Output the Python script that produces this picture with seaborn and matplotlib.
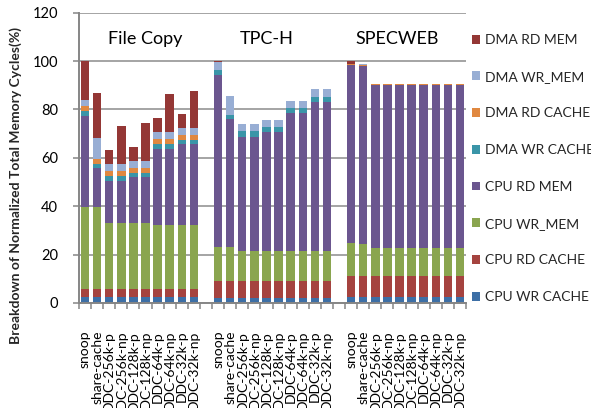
import matplotlib
matplotlib.use("Agg")
import matplotlib.pyplot as plt
from matplotlib.patches import Patch
import numpy as np
import pandas as pd
import seaborn as sns

# Benchmarks and the configurations evaluated for each of them
workloads = ["File Copy", "TPC-H", "SPECWEB"]
configs = ["snoop", "share-cache", "DDC-256k-p", "DDC-256k-np", "DDC-128k-p",
           "DDC-128k-np", "DDC-64k-p", "DDC-64k-np", "DDC-32k-p", "DDC-32k-np"]

# Stack components, bottom to top
components = ["CPU WR CACHE", "CPU RD CACHE", "CPU WR_MEM", "CPU RD MEM",
              "DMA WR CACHE", "DMA RD CACHE", "DMA WR_MEM", "DMA RD MEM"]
colors = ["#3D6FA6", "#A5433F", "#8AA54F", "#6B568F",
          "#3A95A8", "#E08840", "#98AED4", "#943735"]

# Normalized memory cycles (%) per component, one list per workload
file_copy = {
    "CPU WR CACHE": [2.6, 2.6, 2.6, 2.6, 2.6, 2.6, 2.6, 2.6, 2.6, 2.6],
    "CPU RD CACHE": [3.3, 3.3, 3.3, 3.3, 3.3, 3.3, 3.3, 3.3, 3.3, 3.3],
    "CPU WR_MEM":   [33.7, 33.7, 27.1, 27.1, 27.1, 27.1, 26.3, 26.3, 26.3, 26.3],
    "CPU RD MEM":   [37.9, 16.2, 17.6, 17.6, 19.0, 19.0, 31.6, 31.6, 33.5, 33.5],
    "DMA WR CACHE": [2.0, 1.8, 1.9, 1.9, 1.9, 1.9, 2.1, 2.1, 1.8, 1.8],
    "DMA RD CACHE": [1.9, 1.9, 1.9, 1.9, 2.1, 2.1, 1.9, 1.9, 1.9, 1.9],
    "DMA WR_MEM":   [2.7, 8.7, 3.0, 3.0, 2.8, 2.8, 2.8, 2.8, 2.9, 2.9],
    "DMA RD MEM":   [15.9, 18.5, 5.8, 15.6, 5.8, 15.7, 5.7, 15.6, 5.8, 15.5],
}
tpch = {
    "CPU WR CACHE": [2.2, 2.2, 2.2, 2.2, 2.2, 2.2, 2.2, 2.2, 2.2, 2.2],
    "CPU RD CACHE": [6.7, 6.7, 6.7, 6.7, 6.7, 6.7, 6.7, 6.7, 6.7, 6.7],
    "CPU WR_MEM":   [14.2, 14.3, 12.8, 12.8, 12.5, 12.5, 12.4, 12.4, 12.4, 12.4],
    "CPU RD MEM":   [71.1, 52.7, 47.0, 47.0, 49.2, 49.2, 57.1, 57.1, 61.7, 61.7],
    "DMA WR CACHE": [2.2, 2.0, 2.2, 2.2, 2.0, 2.0, 2.0, 2.0, 2.1, 2.1],
    "DMA RD CACHE": [0.0, 0.0, 0.0, 0.0, 0.0, 0.0, 0.0, 0.0, 0.0, 0.0],
    "DMA WR_MEM":   [3.2, 7.6, 3.0, 3.0, 3.1, 3.1, 3.0, 3.0, 3.3, 3.3],
    "DMA RD MEM":   [0.4, 0.1, 0.1, 0.1, 0.1, 0.1, 0.1, 0.1, 0.1, 0.1],
}
specweb = {
    "CPU WR CACHE": [2.6, 2.6, 2.6, 2.6, 2.6, 2.6, 2.6, 2.6, 2.6, 2.6],
    "CPU RD CACHE": [8.7, 8.7, 8.7, 8.7, 8.7, 8.7, 8.7, 8.7, 8.7, 8.7],
    "CPU WR_MEM":   [13.3, 12.9, 11.4, 11.4, 11.4, 11.4, 11.4, 11.4, 11.4, 11.4],
    "CPU RD MEM":   [73.7, 73.9, 67.5, 67.5, 67.5, 67.5, 67.5, 67.5, 67.5, 67.5],
    "DMA WR CACHE": [0.0, 0.0, 0.0, 0.0, 0.0, 0.0, 0.0, 0.0, 0.0, 0.0],
    "DMA RD CACHE": [0.3, 0.4, 0.2, 0.2, 0.2, 0.2, 0.2, 0.2, 0.2, 0.2],
    "DMA WR_MEM":   [0.0, 0.2, 0.0, 0.0, 0.0, 0.0, 0.0, 0.0, 0.0, 0.0],
    "DMA RD MEM":   [1.4, 0.1, 0.1, 0.1, 0.1, 0.1, 0.1, 0.1, 0.1, 0.1],
}
group_data = [file_copy, tpch, specweb]

# Long-form table; one empty slot separates the workloads on the x axis
rows = []
for g, (wl, data) in enumerate(zip(workloads, group_data)):
    for i, cfg in enumerate(configs):
        pos = g * (len(configs) + 1) + i
        for comp in components:
            rows.append({"workload": wl, "config": cfg, "pos": pos,
                         "component": comp, "value": data[comp][i]})
df = pd.DataFrame(rows)
df["component"] = pd.Categorical(df["component"], components, ordered=True)
df = df.sort_values(["pos", "component"])
df["top"] = df.groupby("pos")["value"].cumsum()

sns.set_theme(style="white")
plt.rcParams["font.family"] = ["Lato", "DejaVu Sans"]

fig = plt.figure(figsize=(5.91, 4.08), dpi=100)
ax = fig.add_axes([79 / 591, 1 - 303 / 408, 387 / 591, (303 - 12.7) / 408])

# Stacked bars: draw cumulative heights from the top component downwards
for comp, col in reversed(list(zip(components, colors))):
    sub = df[df["component"] == comp]
    sns.barplot(data=sub, x="pos", y="top", native_scale=True, orient="x",
                color=col, width=0.7, errorbar=None, linewidth=0,
                saturation=1, ax=ax)

n_slots = 3 * len(configs) + 2
ax.set_xlim(-0.5, n_slots - 0.5)
ax.set_ylim(0, 120)
ax.set_yticks(np.arange(0, 121, 20))
ax.yaxis.grid(True, color="#8C8C8C", linewidth=1.1)
ax.set_axisbelow(True)

# Tick marks between categories, labels at the bar centres
label_pos = sorted(df["pos"].unique())
ax.set_xticks(np.arange(-0.5, n_slots, 1.0))
ax.set_xticklabels([])
ax.set_xticks(label_pos, minor=True)
ax.set_xticklabels(configs * 3, minor=True, rotation=90, va="top", ha="center",
                   fontsize=10, color="black")
ax.tick_params(axis="x", which="major", length=4, width=1.1, color="#868686",
               direction="out", bottom=True)
ax.tick_params(axis="x", which="minor", length=0, pad=20)
ax.tick_params(axis="y", length=4, width=1.1, color="#868686", direction="out",
               left=True, pad=11, labelsize=10.5, labelcolor="black")
ax.set_xlabel("")
ax.set_ylabel("")

for side in ["top", "right"]:
    ax.spines[side].set_visible(False)
for side in ["left", "bottom"]:
    ax.spines[side].set_color("#868686")
    ax.spines[side].set_linewidth(1.4)

# Workload titles above each group of bars
for name, xc in zip(workloads, [4.95, 15.05, 25.8]):
    ax.text(xc, 109.3, name, ha="center", va="center", fontsize=13, color="black")

fig.text(16 / 591, 1 - 186 / 408,
         "Breakdown of Normalized Total Memory Cycles(%)",
         rotation=90, ha="center", va="center", fontsize=10, fontweight="bold")

handles = [Patch(facecolor=c, edgecolor="none") for c in reversed(colors)]
fig.legend(handles, list(reversed(components)), loc="upper left",
           bbox_to_anchor=(472 / 591, 1 - 34 / 408), frameon=False,
           fontsize=10, handlelength=0.6, handleheight=0.6,
           handletextpad=0.35, labelspacing=1.78, borderaxespad=0,
           borderpad=0)

fig.savefig("out.png", dpi=100)
